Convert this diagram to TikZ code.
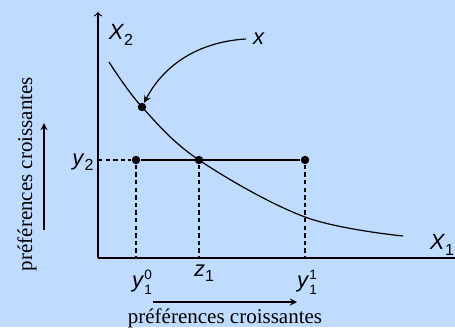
\documentclass[tikz,border=0pt]{standalone}
\usepackage{fontspec}
\setmainfont{Liberation Serif}
\setsansfont{Liberation Sans}
\usetikzlibrary{arrows, positioning}
\definecolor{fondbleu}{RGB}{191,219,255}
\newcommand{\etiq}[2]{\textsf{\fontsize{11}{13}\selectfont\itshape #1\/}\raisebox{-2.6pt}{\sffamily\fontsize{8}{9}\selectfont #2}}
\newcommand{\etiqd}[3]{\textsf{\fontsize{11}{13}\selectfont\itshape #1\/}\makebox[0pt][l]{\raisebox{4.2pt}{\sffamily\fontsize{6.8}{7}\selectfont #3}}\raisebox{-3.2pt}{\sffamily\fontsize{6.8}{7}\selectfont #2}}

\begin{document}
\begin{tikzpicture}[x=0.5pt, y=-0.5pt, line width=0.6pt,
    point/.style={circle, fill, inner sep=0pt, minimum size=4.2pt},
    tirets/.style={dash pattern=on 2.2pt off 1.6pt},
    pref/.style={font=\fontsize{10.5}{12}\selectfont}]
      % Fond
      \fill[fondbleu] (0,0) rectangle (455,327);
      \useasboundingbox (0,0) rectangle (455,327);

      % Axes
      \coordinate (O) at (98,258);
      \coordinate (haut) at (98,12);
      \coordinate (droite) at (455,258);
      \draw[->] (O) -- (haut);
      \draw (O) -- (droite);
      \node (X2) at (121,35) {\etiq{X}{2}};
      \node (X1) at (442,245) {\etiq{X}{1}};

      % Courbe d'indifference
      \draw plot[smooth, tension=0.6] coordinates {(109,62) (142,107) (199,160) (305,217) (403,236)};

      % Points
      \node[point] (x) at (142,107) {};
      \node[point] (y10) at (136,160) {};
      \node[point] (z1) at (199,160) {};
      \node[point] (y11) at (305,160) {};
      \coordinate (y2ax) at (O |- y10);

      % Segment et pointilles
      \draw[tirets] (y2ax) -- (y10);
      \draw (y10) -- (y11);
      \draw[tirets] (y10) -- (y10 |- O);
      \draw[tirets] (z1) -- (z1 |- O);
      \draw[tirets] (y11) -- (y11 |- O);

      % Etiquettes
      \node (ly2) at (83,162) {\etiq{y}{2}};
      \node (ly10) at (142,282) {\etiqd{y}{1}{0}};
      \node (lz1) at (204,273) {\etiq{z}{1}};
      \node (ly11) at (307,282) {\etiqd{y}{1}{1}};
      \node (lx) at (259,39) {\textsf{\fontsize{11}{13}\selectfont\itshape x}};
      \draw[-stealth] (lx.west) .. controls (195,42) and (162,68) .. (x);

      % Preferences croissantes
      \node[pref, rotate=90] (pcg) at (27,174) {préférences croissantes};
      \coordinate (g0) at (44,230);
      \coordinate (g1) at (44,123);
      \draw[-stealth] (g0) -- (g1);
      \node[pref] (pcb) at (225,318) {préférences croissantes};
      \coordinate (b0) at (153,302);
      \coordinate (b1) at (297,302);
      \draw[-stealth] (b0) -- (b1);
\end{tikzpicture}
\end{document}
